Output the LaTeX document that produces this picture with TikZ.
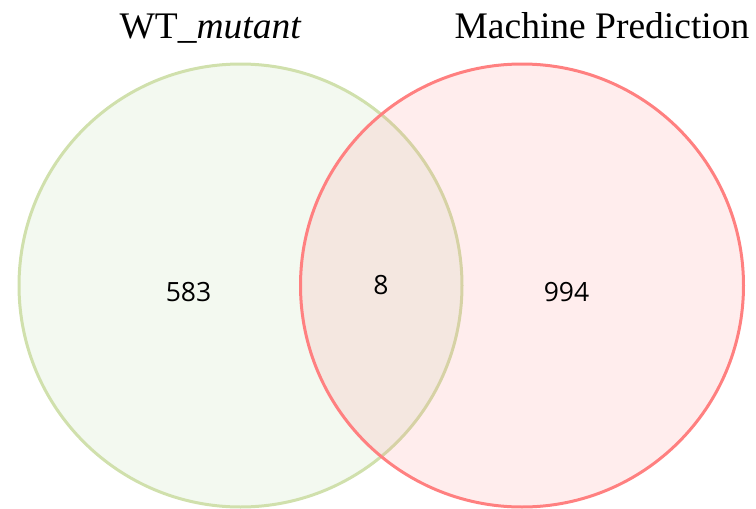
\documentclass[tikz,border=0pt]{standalone}
\usepackage{fontspec}
\setmainfont{Liberation Serif}
\newfontfamily\numfont{Open Sans}
\definecolor{lfill}{RGB}{243,249,240}
\definecolor{lstroke}{RGB}{208,224,172}
\definecolor{rstroke}{RGB}{255,128,128}
\tikzset{
  setcircle/.style={circle, minimum size=443pt, inner sep=0pt, line width=3pt},
  title/.style={font=\fontsize{37.5}{44}\selectfont, anchor=base, inner sep=0pt},
  count/.style={font=\numfont\fontsize{26.5}{30}\selectfont, inner sep=0pt}
}
\begin{document}
\begin{tikzpicture}[x=1pt,y=-1pt]
\useasboundingbox (0,0) rectangle (756,509);
\node[setcircle, fill=lfill, draw=lstroke] (wt) at (240.5,285.5) {};
\node[setcircle, fill=rstroke, fill opacity=0.14, draw=rstroke, draw opacity=1] (mp) at (522,285.5) {};
\node[title] (t1) at (210.5,38) {WT\_\textit{mutant}};
\node[title] (t2) at (602,38) {Machine Prediction};
\node[count] (n1) at (188.5,292) {583};
\node[count] (n2) at (381,285) {8};
\node[count] (n3) at (566.5,292) {994};
\end{tikzpicture}
\end{document}
